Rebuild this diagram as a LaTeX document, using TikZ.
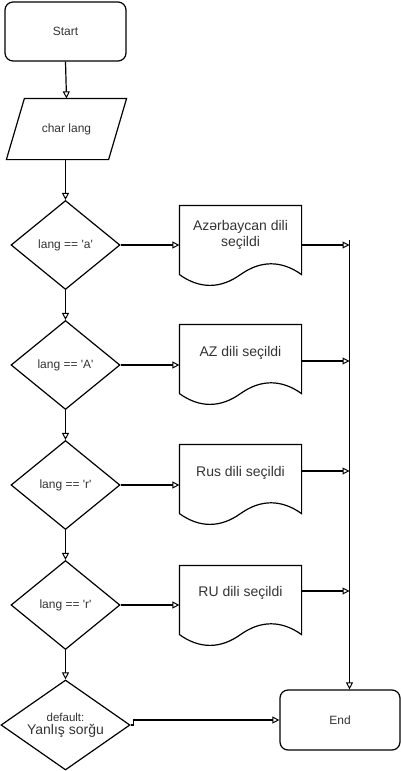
\documentclass[tikz,border=0pt]{standalone}
\usepackage{fontspec}
\setmainfont{Liberation Sans}[Ligatures=TeXOff]
\usetikzlibrary{arrows.meta,shapes.geometric,calc}
\definecolor{txt}{HTML}{333333}
\begin{document}
\begin{tikzpicture}[x=1pt,y=-1pt,line width=1.2pt,
  every node/.style={text=txt,font=\fontsize{12}{14}\selectfont},
  arr/.style={-{Triangle[open,length=7pt,width=7pt,line width=1pt]}},
  term/.style={draw,rectangle,rounded corners=8pt,minimum width=121pt,minimum height=59pt,inner sep=0pt},
  iobox/.style={rectangle,minimum width=119pt,minimum height=60pt,inner sep=0pt},
  dia/.style={draw,diamond,aspect=1.22,minimum width=109pt,minimum height=89pt,inner sep=0pt},
  docbox/.style={rectangle,minimum width=121pt,minimum height=80pt,inner sep=0pt},
  doctext/.style={font=\fontsize{14}{16.5}\selectfont,align=center}
]
\useasboundingbox (0,0) rectangle (401,771);

% nodes
\node[term] (start) at (65.5,31.5) {Start};
\node[iobox] (inp) at (66.5,129) {char lang};
\draw ($(inp.north west)+(18,0)$) -- (inp.north east) -- ($(inp.south east)+(-18,0)$) -- (inp.south west) -- cycle;

\node[dia] (c1) at (65.5,245) {lang == 'a'};
\node[dia] (c2) at (65.5,365) {lang == 'A'};
\node[dia] (c3) at (65.5,485) {lang == 'r'};
\node[dia] (c4) at (65.5,605) {lang == 'r'};
\node[dia,minimum width=129pt,minimum height=90pt,aspect=1.43,align=center] (c5) at (65.5,725)
  {{\fontsize{11.5}{13}\selectfont default:}\\[-1pt]{\fontsize{14}{16}\selectfont Yanlış sorğu}};

\node[docbox] (d1) at (240.5,246) {};
\node[docbox] (d2) at (240.5,365) {};
\node[docbox] (d3) at (240.5,485) {};
\node[docbox] (d4) at (240.5,606) {};
\node[doctext] (t1) at (240.5,235) {Azərbaycan dili\\seçildi};
\node[doctext] (t2) at (240.5,353) {AZ dili seçildi};
\node[doctext] (t3) at (240.5,473) {Rus dili seçildi};
\node[doctext] (t4) at (240.5,593) {RU dili seçildi};

\foreach \d in {d1,d2,d3,d4}{
  \draw (\d.north west) -- (\d.north east) -- ($(\d.south east)+(0,-12)$)
    .. controls ($(\d.south east)+(-20.17,-26.4)$) and ($(\d.south)+(20.17,-26.4)$) .. ($(\d.south)+(0,-12)$)
    .. controls ($(\d.south)+(-20.17,2.4)$) and ($(\d.south west)+(20.17,2.4)$) .. ($(\d.south west)+(0,-12)$)
    -- cycle;
}

\node[term,minimum width=120pt,minimum height=60pt] (fin) at (340,720) {End};

% bus coordinates
\coordinate (btop) at (349.5,240);
\coordinate (b1) at (349.5,245);
\coordinate (b2) at (349.5,361);
\coordinate (b3) at (349.5,471);
\coordinate (b4) at (349.5,591);

% connectors
\draw[arr] (start.south) -- (inp.north);
\draw[arr] (inp.south -| c1.north) -- (c1.north);
\draw[arr] (c1.south) -- (c2.north);
\draw[arr] (c2.south) -- (c3.north);
\draw[arr] (c3.south) -- (c4.north);
\draw[arr] (c4.south) -- (c5.north);

\draw[arr] (c1.east) -- (c1.east -| d1.west);
\draw[arr] (c2.east) -- (c2.east -| d2.west);
\draw[arr] (c3.east) -- (c3.east -| d3.west);
\draw[arr] (c4.east) -- (c4.east -| d4.west);

\draw[arr] (d1.east |- b1) -- (b1);
\draw[arr] (d2.east |- b2) -- (b2);
\draw[arr] (d3.east |- b3) -- (b3);
\draw[arr] (d4.east |- b4) -- (b4);

\draw[arr] (btop) -- (btop |- fin.north);
\draw[arr] (c5.east) -- ++(3,0) |- (fin.west);
\end{tikzpicture}
\end{document}
